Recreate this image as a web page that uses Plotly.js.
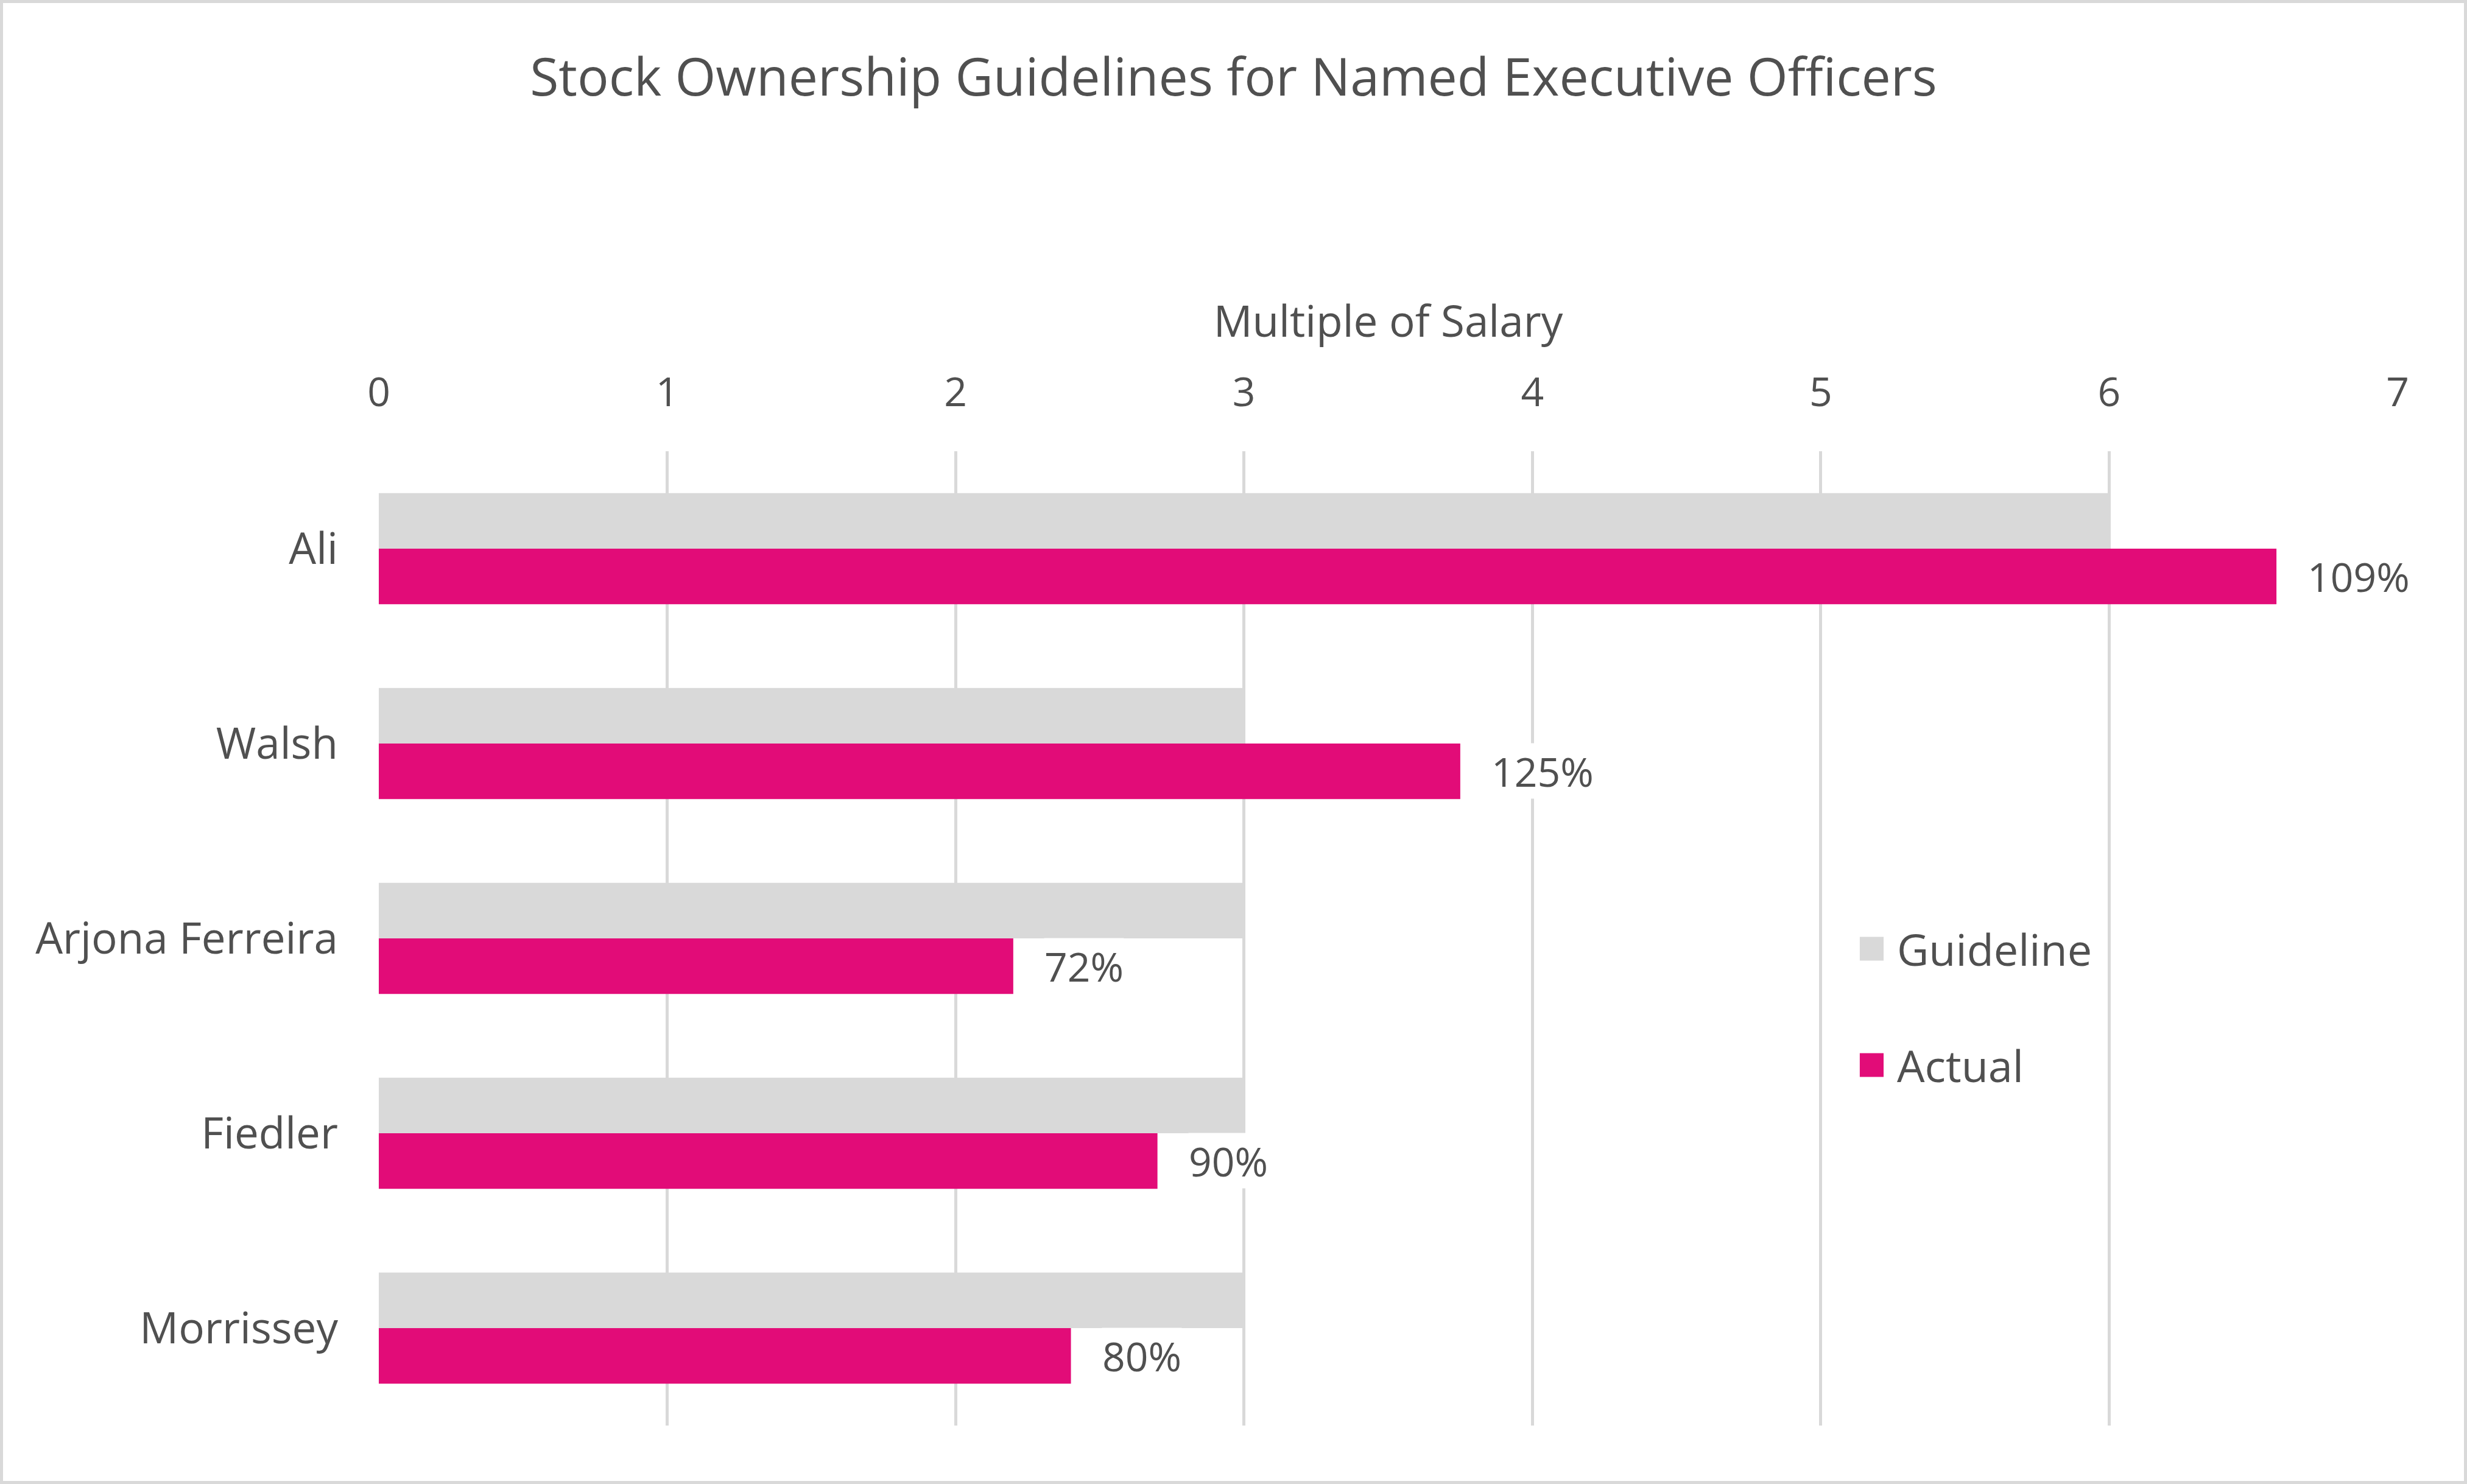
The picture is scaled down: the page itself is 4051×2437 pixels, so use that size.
<!DOCTYPE html>
<html>
<head>
<meta charset="utf-8">
<script src="https://cdn.plot.ly/plotly-3.0.1.min.js"></script>
<style>
  html, body { margin: 0; padding: 0; background: #ffffff; }
  #chart { width: 4051px; height: 2437px; }
  #frame { position: absolute; left: 0; top: 0; width: 4051px; height: 2437px; box-sizing: border-box; border: 5px solid #d9d9d9; pointer-events: none; }
</style>
</head>
<body>
<div id="chart"></div>
<div id="frame"></div>
<script>
const categories = ["Ali", "Walsh", "Arjona Ferreira", "Fiedler", "Morrissey"];
const guideline = [6, 3, 3, 3, 3];
const actual = [6.58, 3.75, 2.2, 2.7, 2.4];
const actualLabels = ["109%", "125%", "72%", "90%", "80%"];
const xTicks = [0, 1, 2, 3, 4, 5, 6, 7];
const seriesNames = ["Guideline", "Actual"];
const seriesColors = ["#d9d9d9", "#e20c78"];

const FONT = "Open Sans, Noto Sans, sans-serif";
const TXT = "#505050";

const traces = [
  {
    type: "bar", orientation: "h", name: seriesNames[0],
    y: categories, x: guideline,
    marker: { color: seriesColors[0] }, hoverinfo: "x+y"
  },
  {
    type: "bar", orientation: "h", name: seriesNames[1],
    y: categories, x: actual,
    marker: { color: seriesColors[1] }, hoverinfo: "x+y"
  }
];

const annotations = actual.map((v, i) => ({
  x: v, y: categories[i], xref: "x", yref: "y",
  text: actualLabels[i], showarrow: false,
  xanchor: "left", yanchor: "middle", xshift: 50, yshift: -45,
  bgcolor: "#ffffff", borderpad: 0,
  font: { family: FONT, size: 66, color: TXT }
}));

// manual legend (large square swatches)
const legendY = [0.4894, 0.37];
const legendShapes = [];
seriesNames.forEach((n, i) => {
  legendShapes.push({
    type: "rect", xref: "paper", yref: "paper",
    x0: 0.7336, x1: 0.7454, y0: legendY[i] - 0.0122, y1: legendY[i] + 0.0122,
    fillcolor: seriesColors[i], line: { width: 0 }
  });
  annotations.push({
    xref: "paper", yref: "paper", x: 0.7514, y: legendY[i],
    xanchor: "left", yanchor: "middle", showarrow: false,
    text: n, font: { family: FONT, size: 72, color: TXT }
  });
});

const layout = {
  width: 4051, height: 2437,
  paper_bgcolor: "#ffffff", plot_bgcolor: "#ffffff",
  margin: { l: 622, r: 114, t: 741, b: 96 },
  font: { family: FONT, color: TXT },
  title: {
    text: "Stock Ownership Guidelines for Named Executive Officers",
    x: 0.5, xanchor: "center", y: 0.948, yanchor: "middle",
    font: { family: FONT, size: 86, color: TXT }
  },
  barmode: "group", bargap: 0.43, bargroupgap: 0,
  xaxis: {
    side: "top", range: [0, 7], tickvals: xTicks, ticktext: xTicks.map(String),
    showgrid: true, gridcolor: "#d9d9d9", gridwidth: 5, zeroline: false, showline: false,
    ticks: "", ticklabelstandoff: 60,
    tickfont: { family: FONT, size: 66, color: TXT },
    title: { text: "Multiple of Salary", standoff: 18, font: { family: FONT, size: 71, color: TXT } },
    fixedrange: true
  },
  yaxis: {
    type: "category", categoryorder: "array", categoryarray: categories,
    autorange: "reversed", showgrid: false, zeroline: false, showline: false,
    ticks: "", ticklabelstandoff: 66,
    tickfont: { family: FONT, size: 71, color: TXT },
    fixedrange: true
  },
  showlegend: false,
  shapes: legendShapes,
  annotations: annotations
};

Plotly.newPlot("chart", traces, layout, { displayModeBar: false, staticPlot: true });
</script>
</body>
</html>
